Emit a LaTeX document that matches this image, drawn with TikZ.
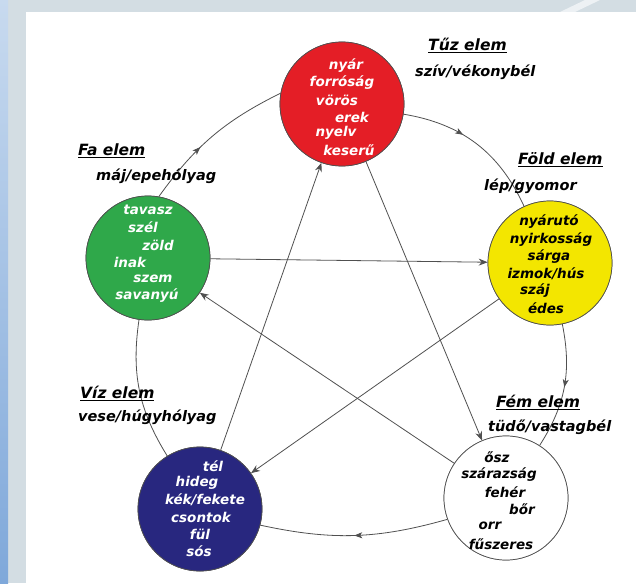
\documentclass[tikz,border=0pt]{standalone}
\usepackage{fontspec}
\setmainfont{DejaVu Sans}
\usetikzlibrary{arrows.meta,decorations.markings}
\definecolor{firered}{HTML}{E41E26}
\definecolor{woodgreen}{HTML}{2FA84A}
\definecolor{earthyellow}{HTML}{F3E600}
\definecolor{waterblue}{HTML}{28277F}
\definecolor{framegray}{HTML}{D3DDE3}
\definecolor{linegray}{HTML}{505050}
\definecolor{striptop}{HTML}{C8DAEF}
\definecolor{stripbot}{HTML}{7FA8DA}
\tikzset{
  elem/.style={circle, draw=linegray, line width=0.7pt, minimum size=124pt, inner sep=0pt},
  intext/.style={font=\fontsize{13.5}{13.5}\selectfont\bfseries\itshape, inner sep=0pt},
  head/.style={font=\fontsize{15.5}{15.5}\selectfont\bfseries\itshape, anchor=west, inner sep=0pt},
  organ/.style={font=\fontsize{14.5}{14.5}\selectfont\bfseries\itshape, anchor=west, inner sep=0pt},
  cyc/.style={draw=linegray, line width=0.8pt},
  midarrow/.style={postaction={decorate}, decoration={markings, mark=at position #1 with {\arrow{Stealth[length=8pt,width=6pt,inset=2pt]}}}},
  starline/.style={draw=linegray, line width=0.8pt, -{Stealth[length=9pt,width=7pt,inset=3pt]}},
}
\begin{document}
\begin{tikzpicture}[x=1pt,y=-1pt]
\useasboundingbox (0,0) rectangle (636,583);
% background frame
\fill[framegray] (0,0) rectangle (636,583);
\shade[top color=striptop, bottom color=stripbot] (0,0) rectangle (8,583);
\fill[white!60!framegray] (585,0) -- (600,0) -- (575,12) -- (560,12) -- cycle;
\fill[white] (26,12) rectangle (636,583);

% element circles
\node[elem, fill=firered] (fire) at (342,104) {};
\node[elem, fill=earthyellow] (earth) at (550,263) {};
\node[elem, fill=white] (metal) at (506,498) {};
\node[elem, fill=waterblue] (water) at (200,509) {};
\node[elem, fill=woodgreen] (wood) at (148,258) {};

% generating cycle
\draw[cyc, midarrow=0.4] (fire) to[bend left=28] (earth);
\draw[cyc, midarrow=0.5] (earth) to[bend left=22] (metal);
\draw[cyc, midarrow=0.5] (metal.200) to[bend left=14] (water.-15);
\draw[cyc] (water) to[bend left=20] (wood);
\draw[cyc, midarrow=0.4] (wood.80) to[bend left=14] (fire.170);

% controlling cycle
\draw[starline] (wood) -- (earth);
\draw[starline] (earth) -- (water);
\draw[starline] (water) -- (fire);
\draw[starline] (fire) -- (metal);
\draw[starline] (metal) -- (wood);

% redraw circles over lines
\node[elem, fill=firered] at (fire) {};
\node[elem, fill=earthyellow] at (earth) {};
\node[elem, fill=white] at (metal) {};
\node[elem, fill=waterblue] at (water) {};
\node[elem, fill=woodgreen] at (wood) {};

% circle texts
\begin{scope}[every node/.style={intext, text=white}]
\node (f1) at (346,66) {nyár};
\node (f2) at (342,83) {forróság};
\node (f3) at (337,100) {vörös};
\node (f4) at (352,117) {erek};
\node (f5) at (336,133) {nyelv};
\node (f6) at (349,150) {keserű};
\node (w1) at (148,210) {tavasz};
\node (w2) at (143,227) {szél};
\node (w3) at (158,245) {zöld};
\node (w4) at (130,262) {inak};
\node (w5) at (153,279) {szem};
\node (w6) at (147,296) {savanyú};
\node (v1) at (213,466) {tél};
\node (v2) at (197,483) {hideg};
\node (v3) at (205,500) {kék/fekete};
\node (v4) at (201,517) {csontok};
\node (v5) at (200,534) {fül};
\node (v6) at (199,551) {sós};
\end{scope}
\begin{scope}[every node/.style={intext, text=black}]
\node (e1) at (549,222) {nyárutó};
\node (e2) at (551,240) {nyirkosság};
\node (e3) at (549,257) {sárga};
\node (e4) at (546,274) {izmok/hús};
\node (e5) at (535,291) {száj};
\node (e6) at (546,308) {édes};
\node (m1) at (497,457) {ősz};
\node (m2) at (499,475) {szárazság};
\node (m3) at (505,492) {fehér};
\node (m4) at (522,509) {bőr};
\node (m5) at (490,526) {orr};
\node (m6) at (501,544) {fűszeres};
\end{scope}

% labels
\node[head] (tuz) at (428,45) {\underline{Tűz elem}};
\node[organ] (tuzo) at (415,72) {szív/vékonybél};
\node[head] (fold) at (518,160) {\underline{Föld elem}};
\node[organ] (foldo) at (484,186) {lép/gyomor};
\node[head] (fa) at (78,151) {\underline{Fa elem}};
\node[organ] (fao) at (96,176) {máj/epehólyag};
\node[head] (viz) at (80,393) {\underline{Víz elem}};
\node[organ] (vizo) at (78,417) {vese/húgyhólyag};
\node[head] (fem) at (496,402) {\underline{Fém elem}};
\node[organ] (femo) at (488,427) {tüdő/vastagbél};
\end{tikzpicture}
\end{document}
